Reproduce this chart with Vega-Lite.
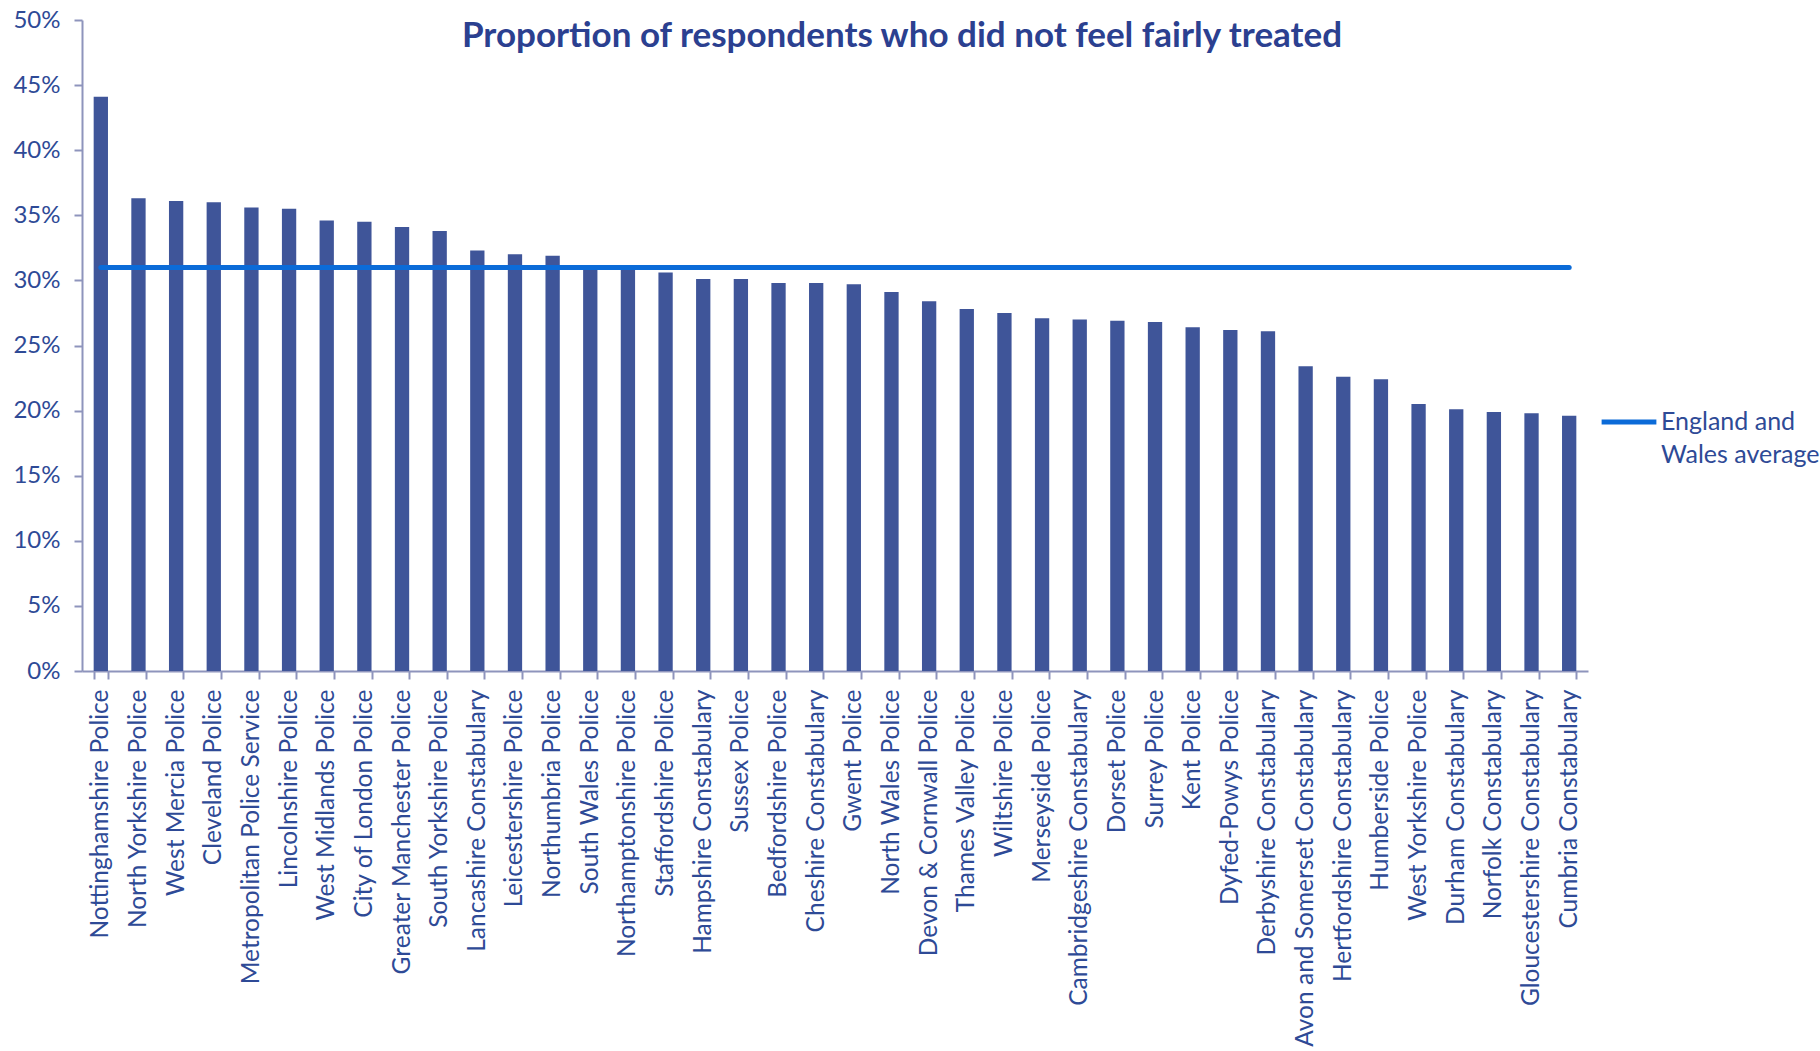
{
  "$schema": "https://vega.github.io/schema/vega-lite/v6.json",
  "width": 1506,
  "height": 651,
  "autosize": {"type": "none"},
  "padding": {"left": 82, "top": 20, "right": 232, "bottom": 380},
  "background": "white",
  "title": {
    "text": "Proportion of respondents who did not feel fairly treated",
    "font": "Lato",
    "fontSize": 35,
    "fontWeight": "bold",
    "color": "#2B4090",
    "anchor": "middle",
    "dx": 67,
    "offset": -46
  },
  "config": {
    "view": {"stroke": null},
    "font": "Lato"
  },
  "data": {
    "values": [
      {"force": "Nottinghamshire Police", "value": 0.441, "average": 0.31},
      {"force": "North Yorkshire Police", "value": 0.363, "average": 0.31},
      {"force": "West Mercia Police", "value": 0.361, "average": 0.31},
      {"force": "Cleveland Police", "value": 0.360, "average": 0.31},
      {"force": "Metropolitan Police Service", "value": 0.356, "average": 0.31},
      {"force": "Lincolnshire Police", "value": 0.355, "average": 0.31},
      {"force": "West Midlands Police", "value": 0.346, "average": 0.31},
      {"force": "City of London Police", "value": 0.345, "average": 0.31},
      {"force": "Greater Manchester Police", "value": 0.341, "average": 0.31},
      {"force": "South Yorkshire Police", "value": 0.338, "average": 0.31},
      {"force": "Lancashire Constabulary", "value": 0.323, "average": 0.31},
      {"force": "Leicestershire Police", "value": 0.320, "average": 0.31},
      {"force": "Northumbria Police", "value": 0.319, "average": 0.31},
      {"force": "South Wales Police", "value": 0.310, "average": 0.31},
      {"force": "Northamptonshire Police", "value": 0.309, "average": 0.31},
      {"force": "Staffordshire Police", "value": 0.306, "average": 0.31},
      {"force": "Hampshire Constabulary", "value": 0.301, "average": 0.31},
      {"force": "Sussex Police", "value": 0.301, "average": 0.31},
      {"force": "Bedfordshire Police", "value": 0.298, "average": 0.31},
      {"force": "Cheshire Constabulary", "value": 0.298, "average": 0.31},
      {"force": "Gwent Police", "value": 0.297, "average": 0.31},
      {"force": "North Wales Police", "value": 0.291, "average": 0.31},
      {"force": "Devon & Cornwall Police", "value": 0.284, "average": 0.31},
      {"force": "Thames Valley Police", "value": 0.278, "average": 0.31},
      {"force": "Wiltshire Police", "value": 0.275, "average": 0.31},
      {"force": "Merseyside Police", "value": 0.271, "average": 0.31},
      {"force": "Cambridgeshire Constabulary", "value": 0.270, "average": 0.31},
      {"force": "Dorset Police", "value": 0.269, "average": 0.31},
      {"force": "Surrey Police", "value": 0.268, "average": 0.31},
      {"force": "Kent Police", "value": 0.264, "average": 0.31},
      {"force": "Dyfed-Powys Police", "value": 0.262, "average": 0.31},
      {"force": "Derbyshire Constabulary", "value": 0.261, "average": 0.31},
      {"force": "Avon and Somerset Constabulary", "value": 0.234, "average": 0.31},
      {"force": "Hertfordshire Constabulary", "value": 0.226, "average": 0.31},
      {"force": "Humberside Police", "value": 0.224, "average": 0.31},
      {"force": "West Yorkshire Police", "value": 0.205, "average": 0.31},
      {"force": "Durham Constabulary", "value": 0.201, "average": 0.31},
      {"force": "Norfolk Constabulary", "value": 0.199, "average": 0.31},
      {"force": "Gloucestershire Constabulary", "value": 0.198, "average": 0.31},
      {"force": "Cumbria Constabulary", "value": 0.196, "average": 0.31}
    ]
  },
  "encoding": {
    "x": {
      "field": "force",
      "type": "nominal",
      "sort": null,
      "title": null,
      "scale": {"paddingInner": 0.62, "paddingOuter": 0.31},
      "axis": {
        "labelAngle": -90,
        "labelFont": "Lato",
        "labelFontSize": 24.5,
        "labelColor": "#2E4A96",
        "labelPadding": 10,
        "labelLimit": 400,
        "tickBand": "extent",
        "tickSize": 8,
        "tickColor": "#8E94BC",
        "domainColor": "#8E94BC",
        "domainWidth": 2,
        "tickWidth": 2
      }
    }
  },
  "layer": [
    {
      "mark": {"type": "bar", "color": "#3F5599"},
      "encoding": {
        "y": {
          "field": "value",
          "type": "quantitative",
          "title": null,
          "scale": {"domain": [0, 0.5], "nice": false},
          "axis": {
            "values": [0, 0.05, 0.1, 0.15, 0.2, 0.25, 0.3, 0.35, 0.4, 0.45, 0.5],
            "format": ".0%",
            "grid": false,
            "labelFont": "Lato",
            "labelFontSize": 24,
            "labelColor": "#2E4A96",
            "labelPadding": 14,
            "tickSize": 8,
            "tickColor": "#8E94BC",
            "domainColor": "#8E94BC",
            "domainWidth": 2,
            "tickWidth": 2
          }
        }
      }
    },
    {
      "mark": {"type": "line", "strokeWidth": 5, "strokeCap": "round"},
      "encoding": {
        "y": {"field": "average", "type": "quantitative"},
        "color": {
          "datum": "England and Wales average",
          "type": "nominal",
          "scale": {"range": ["#0B6BD8"]},
          "legend": {
            "title": null,
            "orient": "none",
            "legendX": 1517,
            "legendY": 372,
            "symbolType": "stroke",
            "symbolSize": 3000,
            "symbolStrokeWidth": 5,
            "labelFont": "Lato",
            "labelFontSize": 25,
            "labelColor": "#2E4A96",
            "labelLimit": 400,
            "labelOffset": 2,
            "labelExpr": "['England and', 'Wales average']",
            "labelBaseline": "middle",
            "encode": {"labels": {"update": {"lineHeight": {"value": 33}}}}
          }
        }
      }
    }
  ]
}
